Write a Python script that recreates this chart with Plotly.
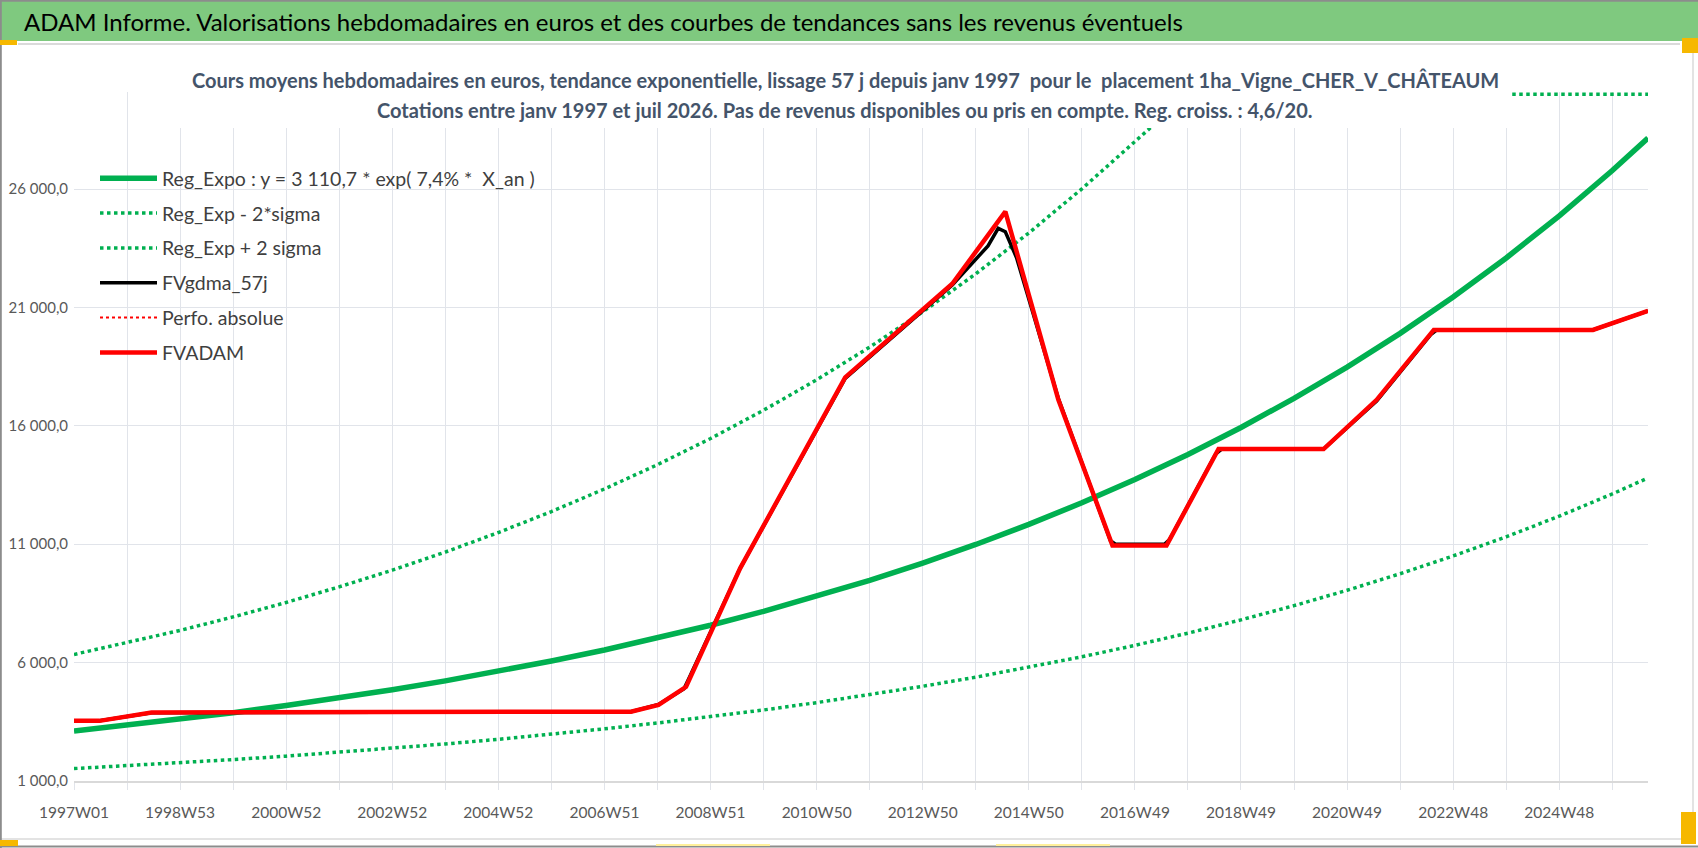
import datetime as dt
import plotly.graph_objects as go

# ---------------- data ----------------
x_tick_labels = ["1997W01", "1998W53", "2000W52", "2002W52", "2004W52", "2006W51",
                 "2008W51", "2010W50", "2012W50", "2014W50", "2016W49", "2018W49",
                 "2020W49", "2022W48", "2024W48"]
y_tick_values = [1000, 6000, 11000, 16000, 21000, 26000]
y_tick_labels = ["1 000,0", "6 000,0", "11 000,0", "16 000,0", "21 000,0", "26 000,0"]
first_week = "1997W01"
last_week = "2026W31"

trend_weeks = ["1997W01", "1998W01", "1998W53", "1999W52", "2000W52", "2001W52", "2002W52",
               "2003W52", "2004W52", "2005W51", "2006W51", "2007W51", "2008W51", "2009W51",
               "2010W50", "2011W50", "2012W50", "2013W50", "2014W50", "2015W50", "2016W49",
               "2017W49", "2018W49", "2019W49", "2020W49", "2021W48", "2022W48", "2023W48",
               "2024W48", "2025W48", "2026W31"]
reg_expo = [3110, 3350, 3610, 3885, 4185, 4510, 4855, 5230, 5635, 6070, 6535, 7040, 7580,
            8165, 8795, 9475, 10205, 10990, 11840, 12750, 13730, 14790, 15930, 17160, 18480,
            19905, 21440, 23090, 24870, 26785, 28160]
reg_minus = [1525, 1640, 1770, 1905, 2050, 2210, 2380, 2565, 2760, 2975, 3205, 3450, 3715,
             4000, 4310, 4640, 5000, 5385, 5800, 6245, 6730, 7245, 7805, 8405, 9055, 9755,
             10505, 11315, 12185, 13125, 13800]
reg_plus = [6345, 6835, 7360, 7930, 8540, 9200, 9905, 10670, 11495, 12380, 13335, 14360,
            15465, 16660, 17945, 19325, 20815, 22420, 24145, 26010, 28015, 30170, 32500,
            35000, 37700, 40605, 43735, 47105, 50735, 54645, 57445]

adam_weeks = ["1997W01", "1997W26", "1998W25", "2003W38", "2007W25", "2007W52", "2008W27",
              "2009W28", "2011W26", "2013W27", "2014W27", "2015W27", "2016W27", "2017W28",
              "2018W27", "2020W26", "2021W25", "2022W29", "2025W29", "2026W31"]
adam_values = [3540, 3540, 3890, 3900, 3930, 4210, 4980, 9980, 18050, 22000, 25050, 17100,
               10950, 10950, 15020, 15020, 17100, 20050, 20050, 20860]

gdma_weeks = ["1997W01", "1997W26", "1998W25", "2003W38", "2007W25", "2007W52", "2008W25",
              "2008W30", "2009W28", "2011W26", "2013W27", "2014W10", "2014W20", "2014W27",
              "2014W38", "2015W27", "2016W25", "2016W30", "2017W26", "2017W31", "2018W24",
              "2018W30", "2020W26", "2021W25", "2022W26", "2022W32", "2025W29", "2026W31"]
gdma_values = [3540, 3545, 3880, 3900, 3930, 4230, 4900, 5350, 9980, 18000, 21950, 23600,
               24340, 24200, 23100, 17150, 11150, 11000, 11000, 11200, 14800, 15020, 15020,
               17050, 19850, 20050, 20050, 20860]

perfo_weeks = adam_weeks
perfo_values = adam_values

y_axis_max = 30000

title_text = ("ADAM Informe. Valorisations hebdomadaires en euros et des courbes de "
              "tendances sans les revenus éventuels")
subtitle_1 = ("Cours moyens hebdomadaires en euros, tendance exponentielle, lissage 57 j "
              "depuis janv 1997  pour le  placement 1ha_Vigne_CHER_V_CHÂTEAUM")
subtitle_2 = ("Cotations entre janv 1997 et juil 2026. Pas de revenus disponibles ou pris "
              "en compte. Reg. croiss. : 4,6/20.")

# ---------------- helpers ----------------
W, H = 1698, 848
ML, MR, MT, MB = 74, 50, 92, 67
PW, PH = W - ML - MR, H - MT - MB


def week_index(label):
    y, w = label.split("W")
    d = dt.date.fromisocalendar(int(y), int(w), 1)
    return (d - dt.date.fromisocalendar(int(first_week[:4]), 1, 1)).days // 7


def wx(labels):
    return [week_index(s) for s in labels]


def fx(p):  # pixel -> paper x
    return (p - ML) / PW


def fy(p):  # pixel -> paper y
    return (H - MB - p) / PH


FONT = "Lato"
GREEN = "#00B050"
RED = "#FF0000"
GRID = "#e1e4ea"

fig = go.Figure()

fig.add_trace(go.Scatter(x=wx(trend_weeks), y=reg_expo, mode="lines",
                         name="Reg_Expo : y = 3 110,7 * exp( 7,4% *  X_an )",
                         legendgroup="a", line=dict(color=GREEN, width=5.5)))
fig.add_trace(go.Scatter(x=wx(trend_weeks), y=reg_minus, mode="lines",
                         name="Reg_Exp - 2*sigma", legendgroup="b",
                         line=dict(color=GREEN, width=3.5, dash="dot")))
fig.add_trace(go.Scatter(x=wx(trend_weeks), y=[min(v, y_axis_max) for v in reg_plus],
                         mode="lines", name="Reg_Exp + 2 sigma", legendgroup="c",
                         line=dict(color=GREEN, width=3.5, dash="dot")))
fig.add_trace(go.Scatter(x=wx(gdma_weeks), y=gdma_values, mode="lines",
                         name="FVgdma_57j", legendgroup="d",
                         line=dict(color="#000000", width=3.5)))
fig.add_trace(go.Scatter(x=wx(perfo_weeks), y=perfo_values, mode="lines",
                         name="Perfo. absolue", legendgroup="e",
                         line=dict(color=RED, width=2, dash="dot")))
fig.add_trace(go.Scatter(x=wx(adam_weeks), y=adam_values, mode="lines",
                         name="FVADAM", legendgroup="f",
                         line=dict(color=RED, width=4.5)))

xt = wx(x_tick_labels)
fig.update_xaxes(
    range=[0, week_index(last_week)],
    tickmode="array", tickvals=xt, ticktext=x_tick_labels,
    showgrid=True, gridcolor=GRID, gridwidth=1.3,
    showline=True, linecolor="#d9d9d9", linewidth=1.5,
    ticks="outside", ticklen=7, tickcolor=GRID, tickwidth=1.3,
    tickfont=dict(family=FONT, size=15.5, color="#595959"),
    ticklabelstandoff=10,
    minor=dict(dtick=52, tick0=0, showgrid=True, gridcolor=GRID, gridwidth=1.3,
               ticks="outside", ticklen=7, tickcolor=GRID, tickwidth=1.3),
    zeroline=False,
)
fig.update_yaxes(
    range=[1000, y_axis_max + 100],
    tickmode="array", tickvals=y_tick_values, ticktext=y_tick_labels,
    showgrid=True, gridcolor=GRID, gridwidth=1.3,
    showline=False, ticks="", zeroline=False,
    tickfont=dict(family=FONT, size=15, color="#595959"),
    ticklabelstandoff=5,
)

shapes = [
    # green banner
    dict(type="rect", xref="paper", yref="paper", x0=fx(0), x1=fx(W), y0=fy(0), y1=fy(41),
         fillcolor="#7fc97f", line=dict(width=0), layer="below"),
    # chart-area light border
    dict(type="line", xref="paper", yref="paper", x0=fx(18), x1=fx(1680), y0=fy(44), y1=fy(44),
         line=dict(color="#dadada", width=2)),
    dict(type="line", xref="paper", yref="paper", x0=fx(1693), x1=fx(1693), y0=fy(44), y1=fy(840),
         line=dict(color="#dadada", width=1.5)),
    dict(type="line", xref="paper", yref="paper", x0=fx(0), x1=fx(1693), y0=fy(839), y1=fy(839),
         line=dict(color="#dadada", width=1.5)),
    # outer frame
    dict(type="line", xref="paper", yref="paper", x0=fx(0.8), x1=fx(0.8), y0=fy(0), y1=fy(H),
         line=dict(color="#8c8c8c", width=2)),
    dict(type="line", xref="paper", yref="paper", x0=fx(0), x1=fx(W), y0=fy(0.8), y1=fy(0.8),
         line=dict(color="#8c8c8c", width=2)),
    dict(type="line", xref="paper", yref="paper", x0=fx(0), x1=fx(W), y0=fy(846.5), y1=fy(846.5),
         line=dict(color="#8c8c8c", width=2)),
    # selection handles
    dict(type="rect", xref="paper", yref="paper", x0=fx(0), x1=fx(17), y0=fy(40), y1=fy(45),
         fillcolor="#f6b800", line=dict(width=0)),
    dict(type="rect", xref="paper", yref="paper", x0=fx(1682), x1=fx(1698), y0=fy(38), y1=fy(53),
         fillcolor="#f6b800", line=dict(width=0)),
    dict(type="rect", xref="paper", yref="paper", x0=fx(1681), x1=fx(1696), y0=fy(812), y1=fy(844),
         fillcolor="#f6b800", line=dict(width=0)),
    dict(type="rect", xref="paper", yref="paper", x0=fx(0), x1=fx(18), y0=fy(840), y1=fy(846),
         fillcolor="#f6b800", line=dict(width=0)),
    dict(type="line", xref="paper", yref="paper", x0=fx(656), x1=fx(770), y0=fy(845), y1=fy(845),
         line=dict(color="#fff09a", width=2)),
    dict(type="line", xref="paper", yref="paper", x0=fx(996), x1=fx(1110), y0=fy(845), y1=fy(845),
         line=dict(color="#fff09a", width=2)),
    # white box behind the chart subtitle
    dict(type="rect", xref="paper", yref="paper", x0=fx(177), x1=fx(1512), y0=fy(50), y1=fy(128),
         fillcolor="white", line=dict(width=0), layer="above"),
]

annotations = [
    dict(text=title_text, xref="paper", yref="paper", x=fx(22), y=fy(21),
         xanchor="left", yanchor="middle", showarrow=False,
         font=dict(family=FONT, size=24, color="#000000")),
    dict(text="<b>" + subtitle_1 + "</b>", xref="paper", yref="paper", x=fx(845), y=fy(80),
         xanchor="center", yanchor="middle", showarrow=False,
         font=dict(family=FONT, size=20, color="#44546A")),
    dict(text="<b>" + subtitle_2 + "</b>", xref="paper", yref="paper", x=fx(845), y=fy(110),
         xanchor="center", yanchor="middle", showarrow=False,
         font=dict(family=FONT, size=20, color="#44546A")),
]

fig.update_layout(
    width=W, height=H,
    margin=dict(l=ML, r=MR, t=MT, b=MB, autoexpand=False),
    paper_bgcolor="white", plot_bgcolor="white",
    showlegend=True,
    legend=dict(x=fx(95), y=fy(159), xanchor="left", yanchor="top",
                bgcolor="rgba(0,0,0,0)", borderwidth=0,
                font=dict(family=FONT, size=19.5, color="#3f3f3f"),
                itemwidth=57, tracegroupgap=6.5, traceorder="grouped"),
    shapes=shapes,
    annotations=annotations,
    font=dict(family=FONT),
    hovermode=False,
)

fig.write_html("out.html",
               config={"displayModeBar": False},
               post_script="document.body.style.margin='0px';"
                           "document.body.style.padding='0px';"
                           "document.body.style.overflow='hidden';")
